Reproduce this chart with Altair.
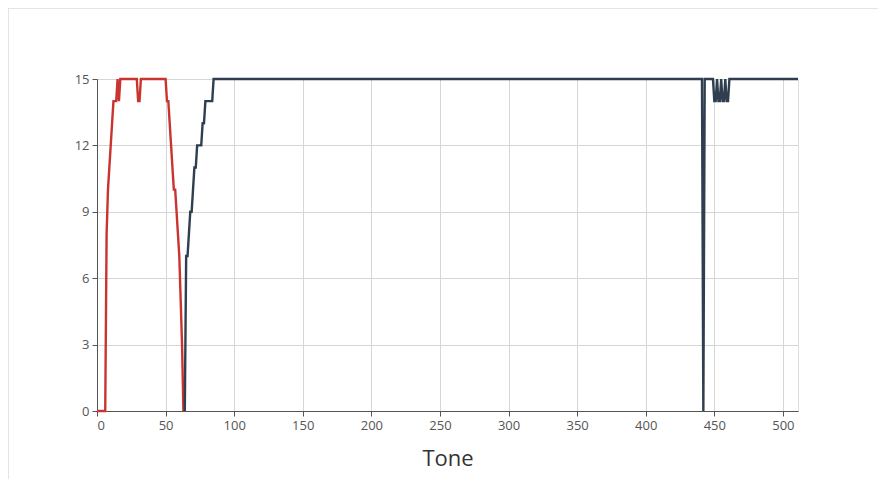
import altair as alt
import pandas as pd

# Vertices (tone, level)
red_tone = [0, 6, 7, 8, 9, 10, 11, 12, 14, 15, 16, 17, 29, 30, 31, 32, 50, 51, 52, 53,
            54, 55, 56, 57, 58, 59, 60, 61, 62, 63]
red_val = [0, 0, 8, 10, 11, 12, 13, 14, 14, 15, 14, 15, 15, 14, 14, 15, 15, 14, 14, 13,
           12, 11, 10, 10, 9, 8, 7, 5, 3, 0]

blue_tone = [64, 65, 66, 67, 68, 69, 70, 71, 72, 73, 76, 77, 78, 79, 84, 85,
             441, 442, 443, 449, 450, 451, 452, 453, 454, 455, 456, 457, 458,
             459, 460, 461, 511]
blue_val = [0, 7, 7, 8, 9, 9, 10, 11, 11, 12, 12, 13, 13, 14, 14, 15,
            15, 0, 15, 15, 14, 14, 15, 14, 14, 15, 14, 14, 15,
            14, 14, 15, 15]

x_ticks = [0, 50, 100, 150, 200, 250, 300, 350, 400, 450, 500]
y_ticks = [0, 3, 6, 9, 12, 15]

series_names = ["low", "high"]
series_colors = ["#c9342f", "#2f3f50"]

df = pd.concat([
    pd.DataFrame({"tone": red_tone, "level": red_val, "series": series_names[0], "ord": range(len(red_tone))}),
    pd.DataFrame({"tone": blue_tone, "level": blue_val, "series": series_names[1], "ord": range(len(blue_tone))}),
])

frame = alt.Chart(pd.DataFrame({"a": [0]})).mark_rect(
    fill="transparent", stroke="#dcdcdc", strokeWidth=1.5
).encode(
    x=alt.value(-89), x2=alt.value(1000), y=alt.value(-71), y2=alt.value(600)
)

label_font = "Liberation Sans Narrow, Open Sans"

lines = alt.Chart(df).mark_line(strokeWidth=2.4, interpolate="linear").encode(
    x=alt.X("tone:Q",
            scale=alt.Scale(domain=[0, 511], nice=False, zero=False),
            axis=alt.Axis(values=x_ticks, title="Tone", grid=True, gridColor="#d6d6d6",
                          domainColor="#555", tickColor="#555", tickSize=5,
                          labelColor="#555", labelFontSize=13, labelFont=label_font,
                          titleFont="Open Sans", titleFontSize=22, titleFontWeight="normal",
                          titleColor="#333", titlePadding=16, labelPadding=3)),
    y=alt.Y("level:Q",
            scale=alt.Scale(domain=[0, 15], nice=False),
            axis=alt.Axis(values=y_ticks, title=None, grid=True, gridColor="#d6d6d6",
                          domainColor="#555", tickColor="#555", tickSize=5,
                          labelColor="#555", labelFontSize=13, labelFont=label_font,
                          labelPadding=3)),
    color=alt.Color("series:N", scale=alt.Scale(domain=series_names, range=series_colors), legend=None),
    order="ord:Q",
)

chart = alt.layer(frame, lines).properties(
    width=701, height=332,
    autosize=alt.AutoSizeParams(type="none"),
    padding={"left": 89, "top": 71, "right": 80, "bottom": 80},
).configure_view(stroke=None).configure(background="white")

chart.save("out.html", embed_options={"renderer": "svg", "actions": False})
